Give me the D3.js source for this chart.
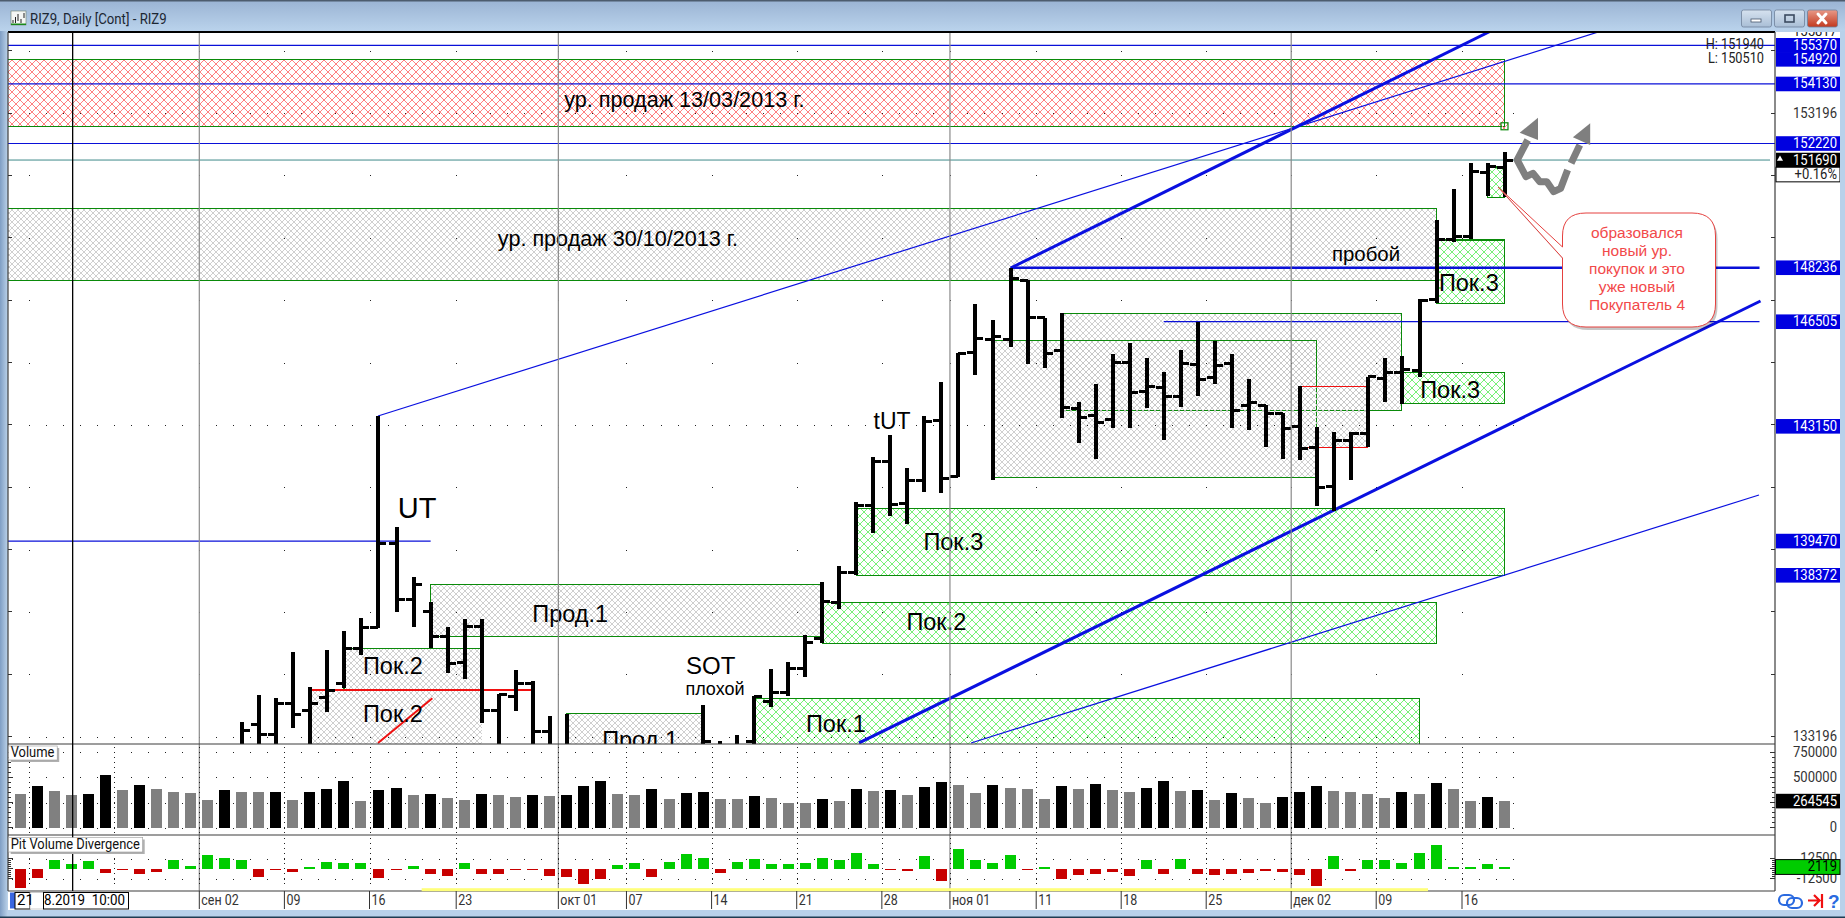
<!DOCTYPE html>
<html>
<head>
<meta charset="utf-8">
<title>RIZ9, Daily [Cont] - RIZ9</title>
<script src="https://cdnjs.cloudflare.com/ajax/libs/d3/7.8.5/d3.min.js"></script>
<style>
html,body{margin:0;padding:0;background:#b9d1ea;overflow:hidden}
svg{display:block;position:absolute;left:0;top:0}
text{font-family:"Liberation Sans",Arial,sans-serif;white-space:pre}
.mono{font-family:Roboto,"Liberation Sans",sans-serif}
</style>
</head>
<body>
<script>
// RIZ9 daily OHLC, session index on the time axis
const barIndex = [13,14,15,16,17,18,19,20,21,22,23,24,25,26,27,28,29,30,31,32,
  40,41,42,43,44,45,46,47,48,49,50,51,52,53,54,55,56,57,58,59,60,61,62,63,64,65,66,67,68,69,70,71,72,73,74,75,76,77,78,79,80,81,82,83,84,85,86,87];
const opens = [132840,133600,133270,134250,134050,134450,134910,136030,136690,139380,137600,137210,136400,135590,136730,134030,134500,134890,133360,132770,
  132610,132900,132770,133030,134320,134610,135380,136350,137510,138470,140600,142030,140660,141410,143340,141530,145510,145930,145930,147820,146630,145580,143720,143500,143360,145210,144280,144390,144100,145120,144700,145180,143830,143810,143550,143140,142470,141210,142690,142910,144690,144870,144940,147230,149130,149230,151280,151450];
const highs = [133660,134530,134430,135900,134780,135980,136580,136990,143480,139910,138310,137510,136710,136960,136960,134570,135330,134990,133850,133940,
  134200,133060,133250,134500,135360,135600,136470,138170,138680,140730,142160,142860,141810,143480,144560,145500,147070,146560,148230,147840,146630,146780,143920,144500,145460,145810,145330,144880,145590,146490,145890,145460,144660,143840,143590,144440,143120,142960,142980,144740,145340,145410,147220,149770,150760,151590,151610,151940];
const lows = [132290,132450,132770,133490,132840,134000,134750,135820,136690,137210,136730,136030,135250,135040,133630,132610,134030,132450,132130,132130,
  132450,132130,132130,132450,134140,134500,135100,136190,137280,138370,139740,140290,140030,141050,141020,141510,144810,141440,145700,145150,145030,143430,142630,142110,143110,143110,143750,142720,143780,144130,144520,143110,143040,142500,142110,142070,140610,140450,141430,142480,143940,143870,144720,147110,149070,149150,150540,150510];
const closes = [133410,133270,134250,133900,134260,134670,136030,136690,139380,137600,138090,136400,135550,136730,134030,134540,134890,133360,132770,132610,
  133040,132770,132710,134480,134610,135380,136210,137520,138450,140600,142030,140630,141410,143310,141490,145490,145960,146020,147890,146630,145470,143750,143430,143260,145190,144250,144420,144100,145160,144640,145090,143670,143910,143570,143090,142430,141180,142680,142930,144740,144870,144980,147190,149130,149250,151310,151480,151690];

// Volume per session and whether that session's bar is dark
const volumes = [334900,414500,364800,325000,334900,523900,374700,424400,384700,354800,344900,275200,374700,354800,354800,354800,275200,354800,384700,464200,265300,374700,394600,325000,334900,295100,275200,334900,325000,305100,325000,315000,325000,414500,464200,334900,
  325000,384700,285200,344900,354800,285200,285200,315000,295100,245400,245400,285200,265300,384700,364800,374700,325000,404600,454300,424400,344900,424400,394600,384700,285200,414500,384700,434400,374700,354800,394600,464200,364800,374700,275200,344900,
  295100,245400,305100,354800,414500,364800,354800,334900,295100,354800,334900,444300,384700,265300,305100,264545];
const volumeDark = [0,1,0,0,1,1,0,1,0,0,0,0,1,0,0,1,0,1,1,1,0,1,1,0,1,0,0,1,0,0,1,0,1,1,1,0,
  0,1,0,1,1,0,0,1,0,0,0,1,0,1,0,1,0,1,1,0,0,1,0,0,0,1,0,1,0,0,1,1,0,1,0,1,
  0,0,1,1,1,0,0,0,0,1,0,1,0,0,1,0];

// Pit volume divergence per session
const divergence = [-23800,-11300,10800,5800,9600,-5400,-800,-6700,-4200,10800,3300,17100,13300,10800,-10400,-800,-4200,2100,8300,7100,7100,-11700,-1700,3300,-6700,-9200,7100,-6700,-6700,-1700,-800,-9200,-10400,-19200,-12900,4600,
  7100,-10400,8300,18300,13300,-5400,8300,12100,5800,5800,7100,13300,10800,19600,5800,-1700,-2900,15800,-15400,24600,10800,7100,17100,-1700,2100,-12900,-7900,-6700,-4200,-9200,10800,-6700,12100,-6700,-7900,-6700,
  -5400,-2900,-4200,-7900,-21700,15800,-2900,10800,10800,7100,19600,29600,2100,2100,5800,2119];

// Time axis: label and the session it starts
const dateLabels = ["сен 02","09","16","23","окт 01","07","14","21","28","ноя 01","11","18","25","дек 02","09","16"];
const dateIndex = [11,16,21,26,32,36,41,46,51,55,60,65,70,75,80,85];
const monthIndex = [11,32,55,75];

// Supply and demand zones
const zoneStart = [-2,-2,83,81,86,49,47,43,24,32,19,17,61,57,75];
const zoneEnd   = [87,83,87,87,87,87,83,82,47,40,27,27,81,76,79];
const zoneTop   = [154920,150143,149126,144884,151467,140522,137507,134429,138085,133948,136032,134694,146775,145910,144422];
const zoneBottom= [152773,147834,147096,143889,150496,138372,136192,132000,136417,132000,134711,132000,143665,141516,142478];
const zoneKind  = ["red","grey","green","green","green","green","green","green","grey","grey","grey","greyOpen","grey","grey","greyRed"];

// Horizontal levels: price, first and last session, weight
const levelPrice = [155370,154130,152220,148236,146505,146505,139470];
const levelStart = [-2,-2,-2,58,67,75.8,-2];
const levelEnd   = [103,103,103,102,75.8,102,24];
const levelWidth = [1.2,1.2,1.2,2.6,1.2,1.2,1.2];

// Trend lines: two anchors in session / price
const trendStart = [[58,148228],[49.16,132995],[21,143482],[55.74,132995]];
const trendEnd   = [[86.2,155829],[102.06,147170],[92.7,155829],[101.97,140948]];
const trendWidth = [3,3,1.2,1.2];

// Chart captions: text, session, price
const captions = [
  ["ур. продаж 13/03/2013 г.",38.9,153620,21.6],["ур. продаж 30/10/2013 г.",35,149170,21.6],
  ["пробой",78.9,148680,20.4],["Пок.3",84.9,147750,23.5],["Пок.3",83.8,144320,23.5],
  ["Пок.3",54.7,139420,23.5],["Пок.2",53.7,136880,23.5],["Пок.1",47.8,133590,23.5],
  ["Прод.1",32.2,137130,23.5],["Прод.1",36.3,133090,23.5],["Пок.2",21.8,135440,23.5],["Пок.2",21.8,133900,23.5],
  ["UT",23.2,140500,29],["tUT",51.1,143300,23],["SOT",40.45,135460,24],["плохой",40.7,134720,18]
];

const W = 1845, H = 918;
const plotL = 8, plotR = 1775, axisR = 1840;
const mainT = 32, mainB = 744, volB = 835, divB = 891;

const x = d3.scaleLinear()
  .domain([0,21,22,57,58,81,82,87])
  .range([20.6,378,396.6,992.5,1010.7,1401.7,1419.5,1504.5]);
const y = d3.scaleLinear().domain([133196,155370]).range([736.7,45.3]);
const yVol = d3.scaleLinear().domain([0,750000]).range([827.7,752.3]);
const yDiv = d3.scaleLinear().domain([-12500,12500]).range([878.6,858.6]);
const tickX = i => x(i) - 8.5;

const svg = d3.select("body").append("svg").attr("width",W).attr("height",H).attr("viewBox",`0 0 ${W} ${H}`);
const defs = svg.append("defs");

// The terminal's bitmap font is tall and narrow: squeeze a taller face to the same run length
function condense(sel,ratio){
  sel.each(function(){
    const len = this.getComputedTextLength();
    d3.select(this).attr("textLength",(len*ratio).toFixed(1)).attr("lengthAdjust","spacingAndGlyphs");
  });
  return sel;
}

// Title bar and window chrome
const tbGrad = defs.append("linearGradient").attr("id","tb").attr("x1",0).attr("y1",0).attr("x2",0).attr("y2",1);
tbGrad.append("stop").attr("offset",0).attr("stop-color","#9ab3d3");
tbGrad.append("stop").attr("offset",1).attr("stop-color","#bad3ec");
const sideGrad = defs.append("linearGradient").attr("id","side").attr("x1",0).attr("y1",0).attr("x2",1).attr("y2",0);
sideGrad.append("stop").attr("offset",0).attr("stop-color","#7f9ec4");
sideGrad.append("stop").attr("offset",1).attr("stop-color","#bcd3ea");
const btnGrad = defs.append("linearGradient").attr("id","btn").attr("x1",0).attr("y1",0).attr("x2",0).attr("y2",1);
btnGrad.append("stop").attr("offset",0).attr("stop-color","#d6e2ef");
btnGrad.append("stop").attr("offset",1).attr("stop-color","#a9bed6");
const closeGrad = defs.append("linearGradient").attr("id","btnClose").attr("x1",0).attr("y1",0).attr("x2",0).attr("y2",1);
closeGrad.append("stop").attr("offset",0).attr("stop-color","#e89a88");
closeGrad.append("stop").attr("offset",1).attr("stop-color","#c2391f");

svg.append("rect").attr("width",W).attr("height",H).attr("fill","#b9d1ea");
svg.append("rect").attr("width",W).attr("height",31).attr("fill","url(#tb)");
svg.append("rect").attr("y",31).attr("width",8).attr("height",H-31).attr("fill","url(#side)");
svg.append("rect").attr("width",W).attr("height",1.5).attr("fill","#4d5c6e");
svg.append("rect").attr("y",H-1.5).attr("width",W).attr("height",1.5).attr("fill","#1f3c52");

// Window icon and caption
const icon = svg.append("g");
icon.append("rect").attr("x",11).attr("y",11).attr("width",15).attr("height",14).attr("fill","#f4f6f4").attr("stroke","#6b7f6b").attr("stroke-width",.6);
icon.append("rect").attr("x",11).attr("y",23.5).attr("width",15).attr("height",1.5).attr("fill","#1a8a1a");
icon.append("path").attr("d","M13 23v-3M15.5 23v-6M18 21v-7M21 23v-4M24 18v-5").attr("stroke","#222").attr("stroke-width",1);
condense(svg.append("text").attr("class","mono").attr("x",30).attr("y",24).attr("font-size",15).attr("fill","#1c2733").text("RIZ9, Daily [Cont] - RIZ9"),.88);

const btnSpec = [[1741.5,"url(#btn)"],[1774.5,"url(#btn)"],[1807.5,"url(#btnClose)"]];
svg.selectAll("rect.wbtn").data(btnSpec).join("rect").attr("class","wbtn")
  .attr("x",d=>d[0]).attr("y",10).attr("width",30).attr("height",17).attr("rx",2)
  .attr("fill",d=>d[1]).attr("stroke","#6f829a").attr("stroke-width",.8);
svg.append("rect").attr("x",1751).attr("y",19).attr("width",10).attr("height",3).attr("fill","#fff").attr("stroke","#46566c").attr("stroke-width",.8);
svg.append("rect").attr("x",1785).attr("y",15).attr("width",9).attr("height",7).attr("fill","none").attr("stroke","#3b4a60").attr("stroke-width",1.6);
svg.append("path").attr("d","M1818 14l8 9M1826 14l-8 9").attr("stroke","#fff").attr("stroke-width",3).attr("stroke-linecap","round");

// Panels
svg.append("rect").attr("x",plotL).attr("y",mainT).attr("width",axisR-plotL).attr("height",910-mainT).attr("fill","#fff");
defs.append("clipPath").attr("id","mainClip").append("rect").attr("x",plotL).attr("y",mainT).attr("width",plotR-plotL).attr("height",mainB-mainT);
defs.append("clipPath").attr("id","axisClip").append("rect").attr("x",plotR).attr("y",mainT).attr("width",axisR-plotR).attr("height",mainB-mainT);

// Diagonal cross hatches for the zones
function hatch(id,size,color,sw){
  const p = defs.append("pattern").attr("id",id).attr("patternUnits","userSpaceOnUse").attr("width",size).attr("height",size);
  p.append("path").attr("d",`M0 0L${size} ${size}M${size} 0L0 ${size}`).attr("stroke",color).attr("stroke-width",sw).attr("fill","none");
}
hatch("hatchred",8,"#ff8080",1);
hatch("hatchgreen",8,"#78f078",1);
hatch("hatchgrey",6,"#c6c6c6",.85);
const zoneFill = {red:"url(#hatchred)",green:"url(#hatchgreen)",grey:"url(#hatchgrey)",greyRed:"url(#hatchgrey)",greyOpen:"url(#hatchgrey)"};
const zoneStroke = {greyRed:"#f01010",greyOpen:"none"};

const main = svg.append("g").attr("clip-path","url(#mainClip)");

const zones = zoneStart.map((s,k)=>({s,e:zoneEnd[k],t:zoneTop[k],b:zoneBottom[k],kind:zoneKind[k]}));
main.selectAll("rect.zone").data(zones).join("rect").attr("class","zone")
  .attr("x",d=>x(d.s)).attr("width",d=>x(d.e)-x(d.s))
  .attr("y",d=>y(d.t)).attr("height",d=>y(d.b)-y(d.t))
  .attr("fill",d=>zoneFill[d.kind]).attr("stroke",d=>zoneStroke[d.kind]||"#0a8a0a").attr("stroke-width",1.1)
  .attr("shape-rendering","crispEdges");
// Red top edge of the lower buyer zone runs on past its hatch
main.append("line").attr("x1",x(17)).attr("x2",x(30)).attr("y1",y(134694)).attr("y2",y(134694)).attr("stroke","#f01010").attr("stroke-width",1.1).attr("shape-rendering","crispEdges");

// Dotted price rows, denser on the major levels
const priceTicks = d3.range(133196,155400,2000);
const allSessions = d3.range(-1,89);
const dot = (gx,gy)=>`M${Math.round(gx)} ${Math.round(gy)}h1`;
let dots = "";
priceTicks.forEach(p=>{
  const major = (p-133196)%10000===0;
  const cols = major ? allSessions.map(tickX) : [-4,1].concat(dateIndex).map(i=>tickX(i));
  cols.forEach(cx=>{ if(cx>plotL+8 && cx<1600) dots += dot(cx,y(p)); });
});
main.append("path").attr("d",dots).attr("stroke","#222").attr("stroke-width",1).attr("shape-rendering","crispEdges");

// Month separators
const fullSep = svg.append("g");
fullSep.selectAll("line").data(monthIndex).join("line")
  .attr("x1",d=>tickX(d)).attr("x2",d=>tickX(d)).attr("y1",mainT).attr("y2",divB)
  .attr("stroke","#8a8a8a").attr("stroke-width",1.2);

// Hand drawn levels and trend lines
main.selectAll("line.level").data(levelPrice).join("line").attr("class","level")
  .attr("x1",(d,k)=>x(levelStart[k])).attr("x2",(d,k)=>x(levelEnd[k]))
  .attr("y1",d=>y(d)).attr("y2",d=>y(d))
  .attr("stroke","#0a10d8").attr("stroke-width",(d,k)=>levelWidth[k]);
main.append("line").attr("x1",plotL).attr("x2",plotR-5).attr("y1",y(151690)).attr("y2",y(151690)).attr("stroke","#3f8a8a").attr("stroke-width",1);
main.selectAll("line.trend").data(trendStart).join("line").attr("class","trend")
  .attr("x1",d=>x(d[0])).attr("y1",d=>y(d[1]))
  .attr("x2",(d,k)=>x(trendEnd[k][0])).attr("y2",(d,k)=>y(trendEnd[k][1]))
  .attr("stroke","#0a10e0").attr("stroke-width",(d,k)=>trendWidth[k]);
main.append("line").attr("x1",x(21)).attr("y1",y(132995)).attr("x2",x(24.1)).attr("y2",y(134429))
  .attr("stroke","#f01010").attr("stroke-width",2);

// Price bars
const bars = barIndex.map((i,k)=>({i,o:opens[k],h:highs[k],l:lows[k],c:closes[k]}));
const barG = main.append("g").attr("stroke","#000").attr("stroke-width",3).attr("shape-rendering","crispEdges");
barG.selectAll("line.hl").data(bars).join("line").attr("class","hl").attr("stroke-width",4)
  .attr("x1",d=>Math.round(x(d.i))).attr("x2",d=>Math.round(x(d.i))).attr("y1",d=>y(d.h)).attr("y2",d=>y(d.l));
barG.selectAll("line.op").data(bars).join("line").attr("class","op")
  .attr("x1",d=>x(d.i)-8).attr("x2",d=>x(d.i)).attr("y1",d=>y(d.o)).attr("y2",d=>y(d.o));
barG.selectAll("line.cl").data(bars).join("line").attr("class","cl")
  .attr("x1",d=>x(d.i)).attr("x2",d=>x(d.i)+8).attr("y1",d=>y(d.c)).attr("y2",d=>y(d.c));

// Captions
main.selectAll("text.cap").data(captions).join("text").attr("class","cap")
  .attr("x",d=>x(d[1])).attr("y",d=>y(d[2])+1.5).attr("text-anchor","middle").attr("dominant-baseline","middle")
  .attr("font-size",d=>d[3]).attr("fill","#000").text(d=>d[0]);

// Grey arrows of the expected path
const gr = "#7f7f7f";
const path1 = d3.line()([[1527.7,140],[1517.2,160],[1526,176.7],[1532.9,173.3],[1539.8,181.7],[1546.8,181.7],[1553.7,191.7],[1560.7,188.3],[1567.6,170]]);
main.append("path").attr("d",path1).attr("fill","none").attr("stroke",gr).attr("stroke-width",7).attr("stroke-linejoin","round");
main.append("path").attr("d",d3.line()([[1571.1,163.3],[1579.8,145]])).attr("fill","none").attr("stroke",gr).attr("stroke-width",7);
main.append("path").attr("d","M1538 117.7L1538 140L1519.7 132.7Z").attr("fill",gr);
main.append("path").attr("d","M1590.2 123.3L1590.2 145L1572.9 137.3Z").attr("fill",gr);
main.append("rect").attr("x",x(87)-3.5).attr("y",y(152773)-3.5).attr("width",7).attr("height",7).attr("fill","url(#hatchred)").attr("stroke","#0a8a0a").attr("stroke-width",1.2);

// Speech bubble
const bubble = d3.path();
bubble.moveTo(1586,213); bubble.lineTo(1692,213);
bubble.quadraticCurveTo(1715.5,213,1715.5,236); bubble.lineTo(1715.5,304);
bubble.quadraticCurveTo(1715.5,327,1692,327); bubble.lineTo(1586,327);
bubble.quadraticCurveTo(1562.5,327,1562.5,304); bubble.lineTo(1562.5,258);
bubble.lineTo(1498,187); bubble.lineTo(1562.5,247); bubble.lineTo(1562.5,236);
bubble.quadraticCurveTo(1562.5,213,1586,213); bubble.closePath();
main.append("path").attr("d",bubble.toString()).attr("transform","translate(2,3)").attr("fill","#000").attr("opacity",.22);
main.append("path").attr("d",bubble.toString()).attr("fill","#fff").attr("stroke","#e5413f").attr("stroke-width",1);
const bubbleLines = ["образовался","новый ур.","покупок и это","уже новый","Покупатель 4"];
main.selectAll("text.bub").data(bubbleLines).join("text").attr("class","bub")
  .attr("x",1637).attr("y",(d,k)=>234+k*18).attr("text-anchor","middle").attr("dominant-baseline","middle")
  .attr("font-size",15.5).attr("fill","#f2494a").text(d=>d);

// H / L readout
const readout = svg.append("g").attr("class","mono").attr("font-size",15).attr("fill","#222").attr("text-anchor","end");
condense(readout.append("text").attr("class","mono").attr("x",1764).attr("y",y(155370)).attr("dominant-baseline","middle").text("H: 151940"),.85);
condense(readout.append("text").attr("class","mono").attr("x",1764).attr("y",y(154920)).attr("dominant-baseline","middle").text("L: 150510"),.85);

// Volume panel
svg.selectAll("rect.vol").data(volumes).join("rect").attr("class","vol")
  .attr("x",(d,k)=>x(k)-5.5).attr("width",11)
  .attr("y",d=>yVol(d)).attr("height",d=>yVol(0)-yVol(d))
  .attr("fill",(d,k)=>volumeDark[k]?"#000":"#808080").attr("shape-rendering","crispEdges");

// Divergence panel
svg.selectAll("rect.div").data(divergence).join("rect").attr("class","div")
  .attr("x",(d,k)=>x(k)-5.5).attr("width",11)
  .attr("y",d=>d>=0?yDiv(d):yDiv(0)).attr("height",d=>Math.max(1.5,Math.abs(yDiv(d)-yDiv(0))))
  .attr("fill",d=>d>=0?"#00cc00":"#c80000").attr("shape-rendering","crispEdges");

// Dots of the lower panels
let lowDots = "";
[750000,500000,250000,0].forEach(v=>allSessions.map(tickX).forEach(cx=>{ if(cx>plotL+4&&cx<1520) lowDots+=dot(cx,yVol(v)); }));
[12500,-12500].forEach(v=>allSessions.map(tickX).forEach(cx=>{ if(cx>plotL+4&&cx<1520) lowDots+=dot(cx,yDiv(v)); }));
[1,6].concat(dateIndex).map(tickX).forEach(cx=>{
  d3.range(mainB+3,volB-2,5).forEach(py=>{ lowDots+=dot(cx,py); });
  d3.range(volB+3,divB-4,5).forEach(py=>{ lowDots+=dot(cx,py); });
});
svg.append("path").attr("d",lowDots).attr("stroke","#222").attr("stroke-width",1).attr("shape-rendering","crispEdges");

// Panel rules
[[plotL,plotR,mainT,mainT],[plotL,plotR,mainB,mainB],[plotL,plotR,volB,volB],[plotL,plotR,divB,divB],[plotL,plotL,mainT,divB],[plotR,plotR,mainT,divB]]
  .forEach(r=>svg.append("line").attr("x1",r[0]).attr("x2",r[1]).attr("y1",r[2]).attr("y2",r[3])
    .attr("stroke",r[2]===mainT&&r[3]===mainT?"#000":"#3c3c3c").attr("stroke-width",r[2]===mainT&&r[3]===mainT?2:1.2));

// Axis tick marks, both sides
const tickPath = (ty,len)=>`M${plotL} ${ty}h${len}M${plotR} ${ty}h${-len}`;
let axisTicks = priceTicks.map(p=>tickPath(y(p),4)).join("");
axisTicks += d3.range(0,750001,50000).map(v=>tickPath(yVol(v),v%250000===0?5:3)).join("");
axisTicks += d3.range(-12500,12501,2500).map(v=>tickPath(yDiv(v),v%12500===0?5:3)).join("");
svg.append("path").attr("d",axisTicks).attr("stroke","#333").attr("stroke-width",1).attr("shape-rendering","crispEdges");

// Cross-hair
svg.append("line").attr("x1",x(3)+1).attr("x2",x(3)+1).attr("y1",mainT).attr("y2",divB).attr("stroke","#000").attr("stroke-width",1.3);

// Yellow session strip above the time axis
svg.append("rect").attr("x",x(24)-9).attr("y",888.2).attr("width",x(82.5)-x(24)+9).attr("height",3).attr("fill","#ffff7a");

// Time axis
const axisG = svg.append("g");
axisG.selectAll("line").data(dateIndex).join("line")
  .attr("x1",d=>tickX(d)).attr("x2",d=>tickX(d)).attr("y1",divB).attr("y2",909).attr("stroke","#333");
condense(axisG.selectAll("text").data(dateLabels).join("text").attr("class","mono")
  .attr("x",(d,k)=>tickX(dateIndex[k])+2).attr("y",904.5).attr("font-size",15).attr("fill","#333").text(d=>d),.83);

// Price axis tags
const axisTags = svg.append("g").attr("clip-path","url(#axisClip)");
function tag(g,cy,text,bg,fg,border){
  g.append("rect").attr("x",plotR+1).attr("y",cy-7.3).attr("width",axisR-plotR-1).attr("height",14.6)
    .attr("fill",bg).attr("stroke",border||"none");
  condense(g.append("text").attr("class","mono").attr("x",axisR-3).attr("y",cy+.5).attr("text-anchor","end").attr("dominant-baseline","middle")
    .attr("font-size",15).attr("fill",fg).text(text),.87);
}
const blueTags = [155370,154920,154130,152220,148236,146505,143150,139470,138372];
tag(axisTags,y(155817),"155817","#fff","#222");
blueTags.forEach(p=>tag(axisTags,y(p),String(p),"#0000e0","#fff"));
tag(axisTags,y(153196),"153196","#fff","#333");
tag(axisTags,y(133196),"133196","#fff","#333");
tag(axisTags,y(151690),"151690","#000","#fff");
axisTags.append("path").attr("d",d3.symbol(d3.symbolTriangle,16)()).attr("transform",`translate(1780,${y(151690)-1})`).attr("fill","#fff");
tag(axisTags,y(151690)+14.5,"+0.16%","#fff","#222","#000");

// Volume and divergence axes
const lowAxis = svg.append("g");
[750000,500000,0].forEach(v=>tag(lowAxis,yVol(v),String(v),"none","#333"));
tag(lowAxis,yVol(264545),"264545","#000","#fff");
tag(lowAxis,yDiv(12500),"12500","none","#333");
tag(lowAxis,yDiv(-12500),"-12500","none","#333");
lowAxis.append("rect").attr("x",plotR+.5).attr("y",yDiv(2119)-7.3).attr("width",axisR-plotR-.5).attr("height",14.8).attr("fill","#00cc00").attr("stroke","#000");
condense(lowAxis.append("text").attr("class","mono").attr("x",axisR-3).attr("y",yDiv(2119)+.5).attr("text-anchor","end").attr("dominant-baseline","middle").attr("font-size",15).attr("fill","#000").text("2119"),.87);

// Indicator name plates
function plate(px,py,w,h,label){
  svg.append("rect").attr("x",px+2).attr("y",py+2).attr("width",w).attr("height",h).attr("fill","#b0b0b0");
  svg.append("rect").attr("x",px).attr("y",py).attr("width",w).attr("height",h).attr("fill","#fff").attr("stroke","#9a9a9a").attr("stroke-width",.6);
  condense(svg.append("text").attr("class","mono").attr("x",px+2).attr("y",py+h/2+.5).attr("dominant-baseline","middle").attr("font-size",15).attr("fill","#111").text(label),.86);
}
plate(8.7,746,48.5,14,"Volume");
plate(8.7,837.5,134,14.5,"Pit Volume Divergence");

// Date box under the cross-hair
svg.append("rect").attr("x",10).attr("y",892.5).attr("width",5).attr("height",16).attr("fill","#3a66e0");
svg.append("rect").attr("x",15).attr("y",892.5).attr("width",15).attr("height",16.5).attr("fill","#fff").attr("stroke","#000");
svg.append("rect").attr("x",30).attr("y",892.5).attr("width",13.5).attr("height",16.5).attr("fill","#fff").attr("stroke","#aaa").attr("stroke-width",.6);
svg.append("rect").attr("x",43.5).attr("y",892.5).attr("width",85).attr("height",16.5).attr("fill","#fff").attr("stroke","#000");
svg.append("text").attr("class","mono").attr("x",17).attr("y",905).attr("font-size",15).attr("fill","#000").text("21");
svg.append("text").attr("class","mono").attr("x",44).attr("y",905).attr("font-size",15).attr("textLength",81).attr("lengthAdjust","spacingAndGlyphs").attr("fill","#000").text("8.2019  10:00");

// Corner tools
svg.append("rect").attr("x",1779).attr("y",895).attr("width",15).attr("height",10).attr("rx",5).attr("fill","none").attr("stroke","#2a6ae0").attr("stroke-width",2.2);
svg.append("rect").attr("x",1787).attr("y",898).attr("width",15).attr("height",10).attr("rx",5).attr("fill","none").attr("stroke","#2a6ae0").attr("stroke-width",2.2);
svg.append("path").attr("d","M1808 900.5h11M1814 895l5.5 5.5l-5.5 5.5M1822 894v14").attr("fill","none").attr("stroke","#f01010").attr("stroke-width",2.2);
svg.append("text").attr("x",1828).attr("y",908).attr("font-size",19).attr("font-weight","bold").attr("fill","#2a6ae0").text("?");
</script>
</body>
</html>
